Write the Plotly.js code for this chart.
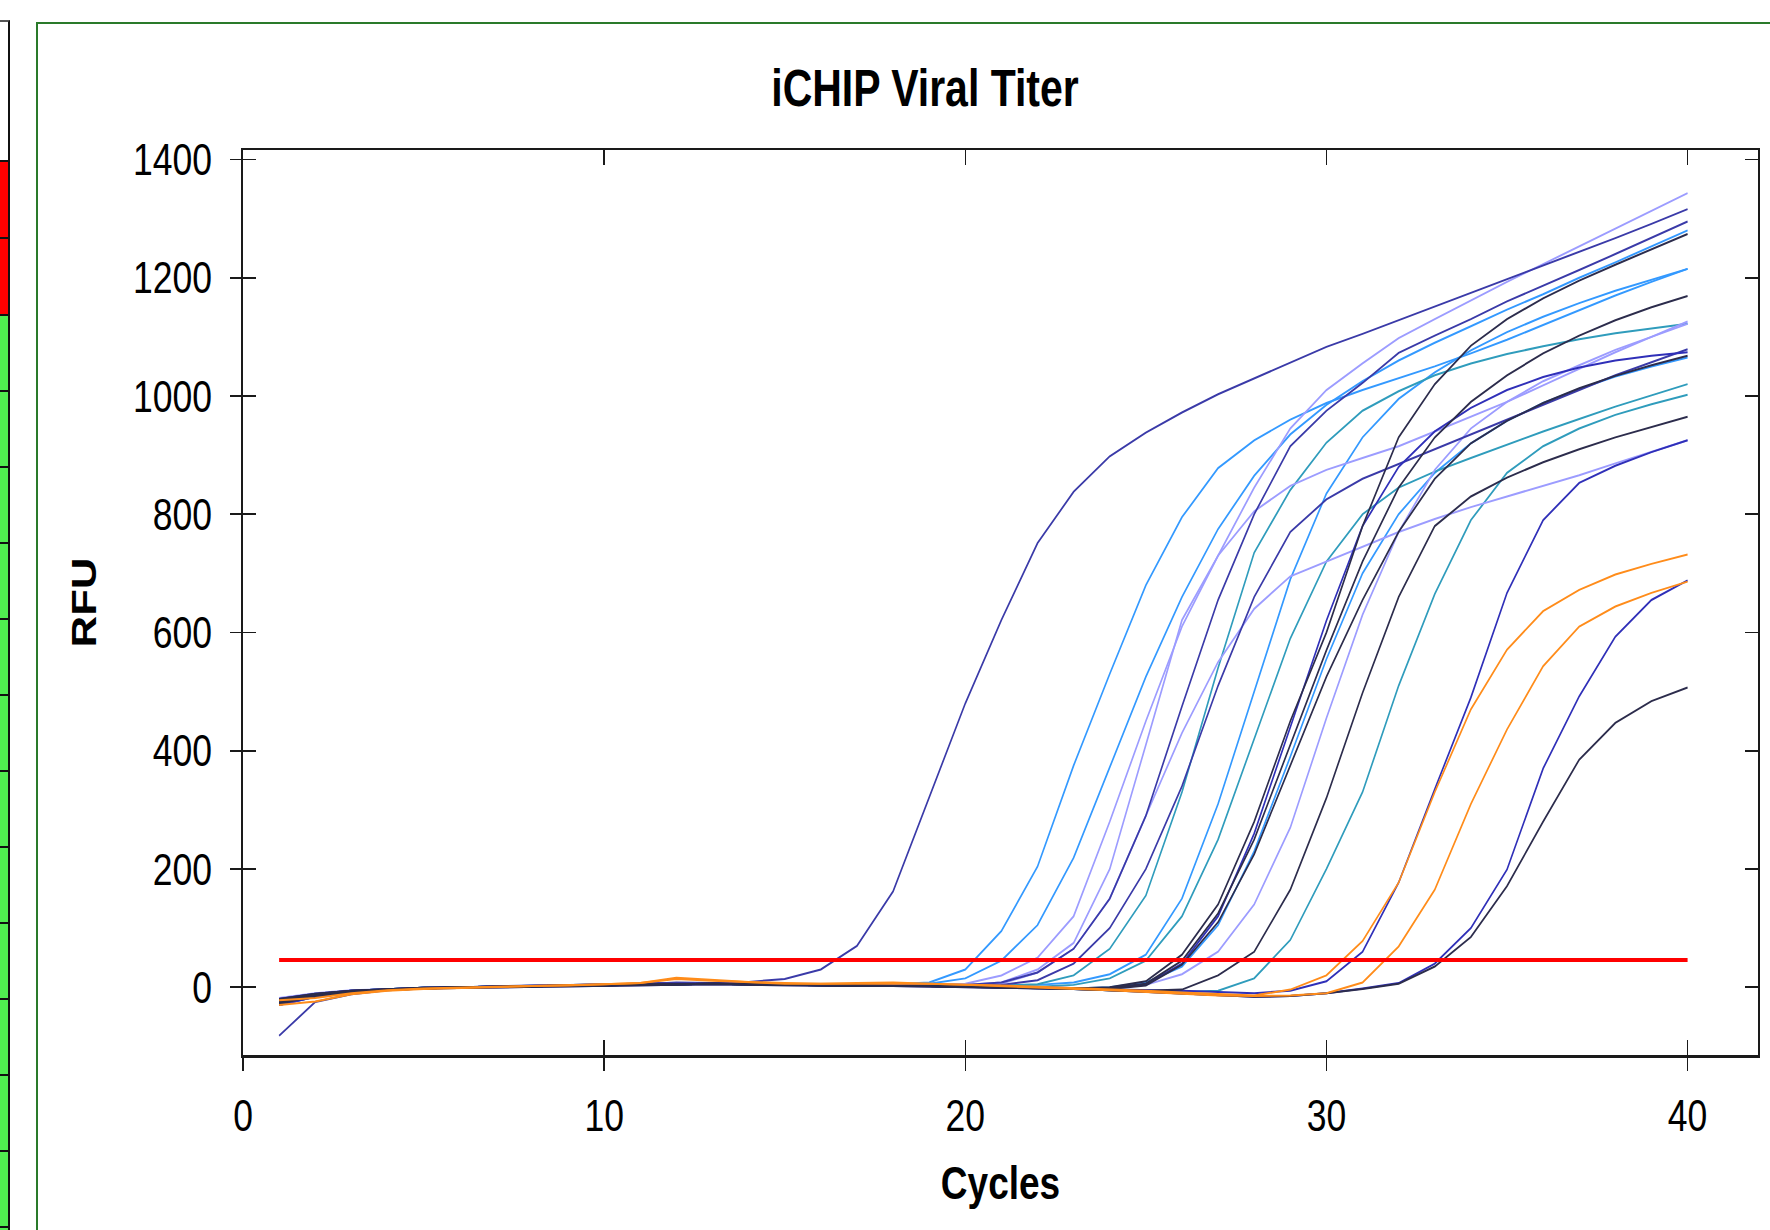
<!DOCTYPE html>
<html>
<head>
<meta charset="utf-8">
<script src="https://cdn.plot.ly/plotly-3.0.1.min.js"></script>
<style>
  html, body { margin: 0; padding: 0; background: #ffffff; overflow: hidden; }
  #wrap { position: relative; width: 1770px; height: 1230px; overflow: hidden; }
  /* the reference picture is vertically stretched by 1.25; reproduce that stretch */
  #chart { position: absolute; left: 0; top: 0; width: 1770px; height: 984px; transform: scaleY(1.25); transform-origin: 0 0; }
  .deco { position: absolute; pointer-events: none; box-sizing: border-box; }
</style>
</head>
<body>
<div id="wrap">
  <div id="chart"></div>
  <div id="frame" class="deco" style="left:36px; top:22px; width:1800px; height:1300px; border-top:2px solid #2a7a2a; border-left:2px solid #2a7a2a;"></div>
  <div id="strip"></div>
</div>
<script>
// ---- data ----
const cycles = [1,2,3,4,5,6,7,8,9,10,11,12,13,14,15,16,17,18,19,20,21,22,23,24,25,26,27,28,29,30,31,32,33,34,35,36,37,38,39,40];
const xTicks = [0, 10, 20, 30, 40];
const yTicks = [0, 200, 400, 600, 800, 1000, 1200, 1400];
const thresholdCycles = [1, 40];
const thresholdRFU = 46;

const skyB  = [-30,-16,-8,-4,-1,0,1,2,3,4, 4,6,6,5,5,4,4,5,8,30, 95,204,375,530,680,795,878,925,960,988, 1010,1030,1050,1072,1095,1120,1145,1170,1193,1215];
const skyC  = [-22,-12,-6,-3,-1,0,1,2,3,4, 5,6,6,5,4,4,3,4,6,15, 45,105,219,372,525,660,775,865,935,985, 1025,1060,1090,1118,1146,1172,1200,1226,1253,1280];
const sky3  = [-26,-14,-7,-4,-2,0,1,2,3,4, 4,6,6,5,4,4,3,3,3,3, 3,4,8,22,55,150,310,500,690,835, 930,995,1040,1077,1108,1134,1157,1178,1197,1215];
const sky4  = [-22,-12,-6,-3,-1,0,1,2,3,4, 4,6,6,5,4,3,3,2,2,1, 0,-1,-2,0,8,35,105,230,390,555, 700,800,870,920,958,988,1012,1033,1050,1065];
const teal1 = [-24,-13,-7,-4,-2,0,1,2,3,4, 5,7,6,5,4,3,3,3,3,3, 3,5,20,65,155,330,540,735,841,921, 975,1008,1035,1055,1071,1084,1096,1106,1114,1122];
const teal2 = [-22,-12,-6,-3,-1,0,1,2,3,4, 4,6,6,5,4,3,3,2,2,2, 1,1,4,15,45,120,250,420,590,720, 800,845,872,895,918,940,961,982,1001,1020];
const teal3 = [-20,-11,-6,-3,-1,0,1,2,3,4, 4,6,6,5,4,3,3,2,2,1, 0,-1,-3,-5,-7,-8,-6,15,80,200, 330,510,665,790,870,915,945,968,986,1002];
const lav1  = [-28,-15,-8,-4,-2,0,1,2,3,4, 5,7,6,5,4,3,3,3,4,6, 20,50,120,280,450,610,730,845,945,1010, 1055,1098,1130,1162,1193,1223,1253,1283,1313,1343];
const lav2  = [-20,-12,-6,-3,-1,0,1,2,3,4, 5,7,6,5,4,3,3,3,3,4, 8,30,75,200,410,621,730,805,848,875, 895,915,940,965,990,1018,1046,1074,1100,1126];
const lav3  = [-24,-13,-7,-4,-2,0,1,2,3,4, 4,7,6,5,4,3,3,3,3,4, 6,25,65,150,290,430,550,640,695,720, 745,770,792,812,830,848,866,886,905,925];
const lav4  = [-18,-10,-5,-3,-1,0,1,2,3,4, 5,6,6,5,4,3,3,2,2,1, 0,-1,-2,-2,4,22,60,140,270,455, 630,770,875,945,990,1025,1052,1078,1100,1122];
const indA  = [-82,-25,-12,-5,-2,0,2,3,4,5, 5,8,7,9,14,30,70,162,320,480, 621,751,838,898,938,972,1003,1030,1057,1083, 1105,1128,1151,1174,1197,1220,1243,1267,1291,1316];
const ind2  = [-30,-16,-8,-4,-2,0,1,2,3,4, 5,7,6,5,4,3,3,3,3,4, 8,25,65,150,290,475,655,800,915,975, 1022,1073,1102,1130,1160,1186,1213,1240,1268,1295];
const ind3  = [-26,-14,-7,-4,-2,0,1,2,3,4, 5,7,6,5,4,3,3,3,3,3, 4,12,40,100,200,340,510,660,770,825, 860,885,910,935,960,985,1010,1035,1057,1079];
const blue1 = [-20,-11,-6,-3,-1,0,1,2,3,4, 4,6,6,5,4,3,3,2,2,1, 0,-1,-2,-2,5,40,120,260,440,620, 780,880,940,980,1010,1032,1048,1060,1068,1074];
const blue2 = [-20,-12,-6,-3,-1,0,1,2,3,4, 4,6,6,5,4,3,3,2,2,1, 0,-1,-2,-3,-4,-6,-8,-10,-6,10, 60,177,335,490,667,790,853,882,905,925];
const blue3 = [-30,-16,-8,-4,-2,-1,0,1,2,3, 3,5,5,4,3,3,2,2,1,1, 0,-1,-3,-5,-8,-11,-14,-16,-15,-10, -2,7,40,100,199,370,492,593,655,688];
const dark1 = [-24,-13,-7,-4,-2,0,1,2,3,4, 4,6,6,5,4,3,3,2,2,1, 0,-1,-2,0,10,55,140,280,450,600, 780,930,1020,1085,1130,1165,1195,1222,1248,1274];
const dark2 = [-26,-14,-7,-4,-2,0,1,2,3,4, 4,6,6,5,4,3,3,2,2,1, 0,-1,-2,-1,6,45,125,250,410,570, 720,845,930,990,1035,1072,1102,1128,1150,1169];
const dark3 = [-22,-12,-6,-3,-1,0,1,2,3,4, 4,6,6,5,4,3,3,2,2,1, 0,-1,-3,-3,3,38,110,225,375,525, 655,770,860,920,958,988,1013,1034,1052,1068];
const dark4 = [-20,-11,-6,-3,-1,0,1,2,3,4, 4,6,6,5,4,3,3,2,2,1, 0,-1,-3,-5,-6,-4,20,60,165,320, 498,660,780,830,862,888,910,930,948,965];
const dark5 = [-28,-15,-8,-4,-2,-1,0,1,2,3, 3,5,5,4,3,3,2,2,1,1, 0,-1,-3,-5,-8,-11,-14,-16,-15,-10, -3,6,35,85,171,280,385,447,484,507];
const orng1 = [-30,-24,-12,-6,-3,-1,1,2,3,5, 7,16,12,9,7,6,7,8,6,5, 3,1,-1,-3,-6,-9,-12,-14,-4,20, 78,177,330,470,571,636,672,698,716,732];
const orng2 = [-22,-18,-10,-5,-2,0,1,2,3,5, 7,14,11,8,6,6,6,7,6,4, 2,0,-2,-5,-8,-11,-14,-15,-14,-10, 8,69,165,310,436,543,610,644,667,686];

// ---- styling (kept apart from the data) ----
const palette = {
  sky: '#3399ff', teal: '#2f9cbc', lav: '#9c9cff', indigo: '#3a3aa8',
  blue: '#2f2fb8', dark: '#2c2c4c', orange: '#ff8c1a', threshold: '#ff0000'
};
const series = [
  [skyB,'sky'],[skyC,'sky'],[sky3,'sky'],[sky4,'sky'],
  [teal1,'teal'],[teal2,'teal'],[teal3,'teal'],
  [lav1,'lav'],[lav2,'lav'],[lav3,'lav'],[lav4,'lav'],
  [indA,'indigo'],[ind2,'indigo'],[ind3,'indigo'],
  [blue1,'blue'],[blue2,'blue'],[blue3,'blue'],
  [dark1,'dark'],[dark2,'dark'],[dark3,'dark'],[dark4,'dark'],[dark5,'dark'],
  [orng1,'orange'],[orng2,'orange']
];

const sans = '"Liberation Sans", Arial, sans-serif';

const traces = series.map(([vals, grp], i) => ({
  type: 'scatter', mode: 'lines', x: cycles, y: vals,
  line: { color: palette[grp], width: 1.6 }, hoverinfo: 'skip', name: 'well ' + (i + 1)
}));
traces.push({
  type: 'scatter', mode: 'lines', x: thresholdCycles, y: thresholdCycles.map(() => thresholdRFU),
  xaxis: 'x2', yaxis: 'y2', line: { color: palette.threshold, width: 3.2 }, hoverinfo: 'skip', name: 'Threshold'
});

const xRange = [0, 41.95];
const yRange = [-114.6, 1416];
const axisCol = '#1a1a1a';

const layout = {
  width: 1770, height: 984,
  margin: { l: 243, r: 12, t: 120, b: 140 },
  paper_bgcolor: '#ffffff', plot_bgcolor: '#ffffff',
  showlegend: false,
  title: {
    text: 'iCHIP Viral Titer', xref: 'container', yref: 'container',
    x: 0.5226, y: 0.9285, xanchor: 'center', yanchor: 'middle',
    font: { family: sans, size: 41, weight: 700, color: '#000000' }
  },
  xaxis: {
    range: xRange, tickvals: xTicks, ticktext: xTicks.map(String),
    ticks: 'inside', ticklen: 12, tickwidth: 1.5, tickcolor: axisCol,
    showline: true, linewidth: 2, linecolor: axisCol, mirror: 'ticks',
    showgrid: false, zeroline: false, ticklabelstandoff: 16,
    tickfont: { family: sans, size: 35.5, color: '#000000' },
    title: { text: 'Cycles', standoff: 22, font: { family: sans, size: 37, weight: 700, color: '#000000' } }
  },
  yaxis: {
    range: yRange, tickvals: yTicks, ticktext: yTicks.map(String),
    ticks: 'inside', ticklen: 13, tickwidth: 1.5, tickcolor: axisCol,
    showline: true, linewidth: 2, linecolor: axisCol, mirror: 'ticks',
    showgrid: false, zeroline: false, ticklabelstandoff: 22,
    tickfont: { family: sans, size: 35.5, color: '#000000' },
    title: { text: 'RFU', standoff: 26, font: { family: sans, size: 35, weight: 700, color: '#000000' } }
  },
  xaxis2: {
    overlaying: 'x', anchor: 'y2', side: 'bottom', range: xRange, tickvals: xTicks,
    ticks: 'outside', ticklen: 12, tickwidth: 1.5, tickcolor: axisCol,
    showticklabels: false, showline: false, showgrid: false, zeroline: false
  },
  yaxis2: {
    overlaying: 'y', anchor: 'x2', side: 'left', range: yRange, tickvals: yTicks,
    ticks: 'outside', ticklen: 12, tickwidth: 1.5, tickcolor: axisCol,
    showticklabels: false, showline: false, showgrid: false, zeroline: false
  }
};

Plotly.newPlot('chart', traces, layout, { displayModeBar: false, staticPlot: true });

// ---- decorative status strip at the left edge (page chrome, not data) ----
(function () {
  const strip = document.getElementById('strip');
  const cells = [{ top: 20, h: 142, c: '#ffffff' }, { top: 162, h: 77, c: '#ff0000' }, { top: 239, h: 77, c: '#ff0000' }];
  for (let t = 316; t < 1240; t += 76) cells.push({ top: t, h: 76, c: '#50ee50' });
  cells.forEach(cell => {
    const d = document.createElement('div');
    d.className = 'deco';
    d.style.cssText = 'left:0;top:' + cell.top + 'px;width:10px;height:' + cell.h +
      'px;background:' + cell.c + ';border-right:2px solid #111;border-bottom:2px solid #111;' +
      (cell.c === '#ffffff' ? 'border-top:2px solid #555;' : '');
    strip.appendChild(d);
  });
})();
</script>
</body>
</html>
